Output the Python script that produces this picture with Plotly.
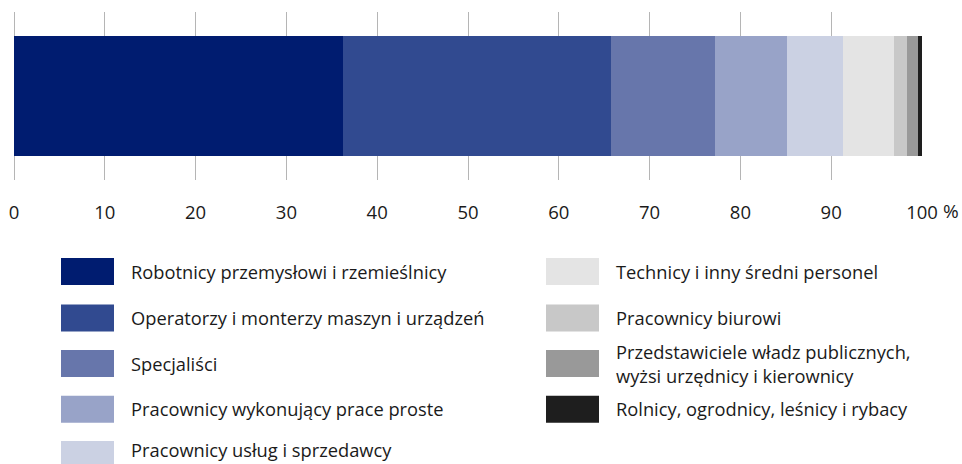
import plotly.graph_objects as go

categories = [
    "Robotnicy przemysłowi i rzemieślnicy",
    "Operatorzy i monterzy maszyn i urządzeń",
    "Specjaliści",
    "Pracownicy wykonujący prace proste",
    "Pracownicy usług i sprzedawcy",
    "Technicy i inny średni personel",
    "Pracownicy biurowi",
    "Przedstawiciele władz publicznych,<br>wyżsi urzędnicy i kierownicy",
    "Rolnicy, ogrodnicy, leśnicy i rybacy",
]
values = [36.2, 29.5, 11.5, 7.9, 6.2, 5.6, 1.5, 1.2, 0.4]
colors = ["#001c70", "#314a90", "#6776ab", "#98a3c8", "#cbd1e3",
          "#e4e4e4", "#c8c8c8", "#999999", "#1e1e1e"]
tick_vals = [0, 10, 20, 30, 40, 50, 60, 70, 80, 90, 100]
tick_text = ["0", "10", "20", "30", "40", "50", "60", "70", "80", "90", "100"]

W, H = 962, 464
ML, MR, MT, MB = 14, 40, 12, 284
PW, PH = W - ML - MR, H - MT - MB
FONT = "Open Sans"
TXT = "#1a1a1a"


def px_x(px):
    return (px - ML) / PW


def px_y(py):
    return (H - MB - py) / PH


fig = go.Figure()
for cat, val, col in zip(categories, values, colors):
    fig.add_trace(go.Bar(
        y=["all"], x=[val], name=cat, orientation="h",
        marker=dict(color=col, line=dict(width=0)),
        width=0.72, showlegend=False, hoverinfo="x+name",
    ))

shapes = []
annotations = []
swatch_top = [258, 304.5, 350, 395.7, 441]
text_y = [271.5, 317.5, 363, 408.7, 449]
cols = [(61, 129), (546, 614)]
for i, (cat, col) in enumerate(zip(categories, colors)):
    c = 0 if i < 5 else 1
    r = i if i < 5 else i - 5
    sx, tx = cols[c]
    st = swatch_top[r]
    shapes.append(dict(type="rect", xref="paper", yref="paper",
                       x0=px_x(sx), x1=px_x(sx + 53),
                       y0=px_y(st + 27), y1=px_y(st),
                       fillcolor=col, line=dict(width=0), layer="above"))
    annotations.append(dict(xref="paper", yref="paper", x=px_x(tx), y=px_y(text_y[r]),
                            text=cat, showarrow=False, xanchor="left", yanchor="middle",
                            align="left",
                            font=dict(family=FONT, size=18.3, color=TXT)))

annotations.append(dict(xref="x", yref="paper", x=100, y=px_y(211),
                        text="%", showarrow=False, xanchor="left", yanchor="middle",
                        xshift=19, font=dict(family=FONT, size=19, color=TXT)))

fig.update_layout(
    barmode="stack",
    width=W, height=H,
    margin=dict(l=ML, r=MR, t=MT, b=MB, autoexpand=False),
    paper_bgcolor="white", plot_bgcolor="white",
    font=dict(family=FONT, color=TXT),
    shapes=shapes, annotations=annotations,
    bargap=0,
)
fig.update_xaxes(range=[0, 100], tickvals=tick_vals, ticktext=tick_text,
                 showgrid=True, gridcolor="#b5b5b5", gridwidth=1,
                 zeroline=True, zerolinecolor="#b5b5b5", zerolinewidth=1,
                 showline=False, ticks="", ticklabelstandoff=19, automargin=False,
                 tickfont=dict(family=FONT, size=18.5, color=TXT), fixedrange=True)
fig.update_yaxes(range=[-0.5, 0.5], showticklabels=False, showgrid=False,
                 zeroline=False, showline=False, fixedrange=True, automargin=False)

fig.write_html("out.html", config={"displayModeBar": False},
               post_script="document.body.style.margin='0';document.body.style.overflow='hidden';")
